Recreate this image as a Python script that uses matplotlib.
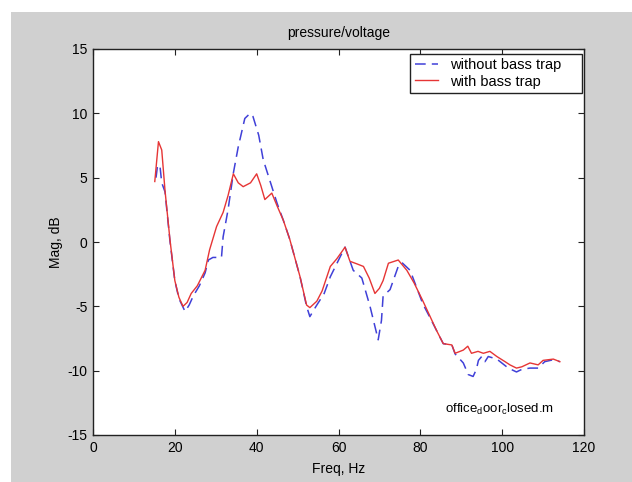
import matplotlib
matplotlib.use("Agg")
import matplotlib.pyplot as plt
from matplotlib.patches import Rectangle

# measured response, without bass trap (blue dashed)
freq_without = [15.4, 15.8, 16.4, 16.8, 17.6, 18.8, 20.0, 21.0, 22.5, 23.5, 24.5, 26.0,
                27.4, 28.2, 29.3, 31.4, 31.8, 33.0, 34.3, 35.5, 37.1, 38.4, 39.1, 40.5,
                41.6, 43.7, 45.0, 46.5, 48.1, 50.6, 52.2, 53.0, 54.5, 56.5, 58.0, 60.8,
                61.6, 63.6, 65.7, 67.7, 69.7, 70.5, 70.9, 72.6, 74.6, 75.5, 77.5, 80.6,
                82.4, 84.0, 85.6, 87.7, 88.5, 90.5, 91.7, 92.9, 93.7, 94.2, 95.0, 95.8,
                96.6, 98.7, 101.5, 103.5, 104.8, 106.8, 108.8, 110.4, 112.5, 114.1]
mag_without = [5.0, 6.0, 5.8, 4.6, 3.9, 0.1, -3.0, -4.4, -5.4, -4.9, -4.2, -3.4,
               -2.4, -1.4, -1.2, -1.2, 0.4, 2.5, 5.35, 7.4, 9.6, 10.0, 9.75, 8.3,
               6.4, 4.3, 3.0, 1.7, 0.2, -2.7, -5.0, -5.8, -5.0, -4.0, -2.7, -0.9,
               -0.4, -2.2, -2.8, -5.0, -7.6, -6.1, -4.2, -3.7, -1.9, -1.6, -2.2, -4.8,
               -5.9, -6.9, -7.9, -8.0, -8.7, -9.4, -10.3, -10.45, -9.9, -9.2, -8.9, -9.3,
               -8.9, -9.1, -9.8, -10.1, -9.9, -9.8, -9.8, -9.3, -9.15, -9.3]

# measured response, with bass trap (red solid)
freq_with = [15.1, 16.0, 16.8, 17.6, 18.8, 20.0, 21.0, 22.0, 23.0, 24.0, 25.5, 27.4,
             28.5, 30.2, 31.8, 33.0, 34.3, 35.5, 36.7, 38.5, 40.0, 41.0, 42.0, 43.7,
             45.0, 46.5, 48.1, 50.6, 52.2, 53.0, 54.7, 56.0, 58.0, 59.6, 61.6, 62.8,
             64.5, 66.1, 67.5, 68.9, 70.0, 70.9, 72.2, 74.6, 76.7, 78.5, 80.5, 82.4,
             84.0, 85.6, 87.7, 88.5, 90.5, 91.6, 92.5, 94.1, 95.4, 97.0, 98.7, 100.7,
             101.9, 103.5, 104.8, 106.8, 108.8, 110.0, 112.5, 114.1]
mag_with = [4.7, 7.8, 7.15, 4.0, 0.2, -3.0, -4.3, -5.0, -4.7, -4.0, -3.4, -2.2,
            -0.6, 1.2, 2.3, 3.6, 5.3, 4.6, 4.3, 4.6, 5.3, 4.4, 3.3, 3.8,
            2.8, 1.7, 0.2, -2.7, -4.9, -5.1, -4.6, -3.8, -1.9, -1.3, -0.4, -1.5,
            -1.7, -1.9, -2.8, -4.0, -3.6, -3.0, -1.65, -1.4, -2.2, -3.2, -4.5, -5.8,
            -6.9, -7.9, -8.0, -8.65, -8.4, -8.1, -8.65, -8.5, -8.65, -8.5, -8.9, -9.3,
            -9.55, -9.8, -9.7, -9.4, -9.55, -9.2, -9.1, -9.3]

x_ticks = [0, 20, 40, 60, 80, 100, 120]
y_ticks = [-15, -10, -5, 0, 5, 10, 15]

plt.rcParams['font.family'] = ['Liberation Sans', 'DejaVu Sans']
plt.rcParams['font.size'] = 10
plt.rcParams['axes.unicode_minus'] = False

fig = plt.figure(figsize=(6.32, 4.82), dpi=100, facecolor='white')
# matlab style grey figure area (white strip top and left)
fig.patches.append(Rectangle((11 / 632, 0), 1, 1 - 12 / 482, transform=fig.transFigure,
                             facecolor='#d0d0d0', edgecolor='none', zorder=-10))

ax = fig.add_axes([93 / 632, 1 - 435 / 482, 491 / 632, 386 / 482])
ax.set_facecolor('white')

ax.plot(freq_without, mag_without, color='#4040d8', lw=1.1, linestyle=(0, (7, 4)),
        label='without bass trap')
ax.plot(freq_with, mag_with, color='#e63535', lw=1.0, label='with bass trap')

ax.set_xlim(0, 120)
ax.set_ylim(-15, 15)
ax.set_xticks(x_ticks)
ax.set_yticks(y_ticks)
ax.tick_params(direction='in', length=4, top=True, right=True, color='#222222',
               labelsize=10, pad=4)
for s in ax.spines.values():
    s.set_color('#222222')
    s.set_linewidth(1.0)

ax.set_title('pressure/voltage', fontsize=10, pad=9)
ax.set_xlabel('Freq, Hz', fontsize=10, labelpad=5)
ax.set_ylabel('Mag, dB', fontsize=10, labelpad=3)

ax.text(86, -13, r'office$_\mathregular{d}$oor$_\mathregular{c}$losed.m', fontsize=9.5,
        va='center', ha='left')

leg = ax.legend(loc='upper left', bbox_to_anchor=(0.646, 0.876, 0.350, 0.111),
                mode='expand', borderaxespad=0,
                fancybox=False, framealpha=1, edgecolor='#222222', fontsize=10.5,
                handlelength=1.6, handletextpad=0.8, borderpad=0.3, labelspacing=0.15)
leg.get_frame().set_linewidth(1.0)

fig.savefig('out.png', dpi=100, facecolor=fig.get_facecolor())
